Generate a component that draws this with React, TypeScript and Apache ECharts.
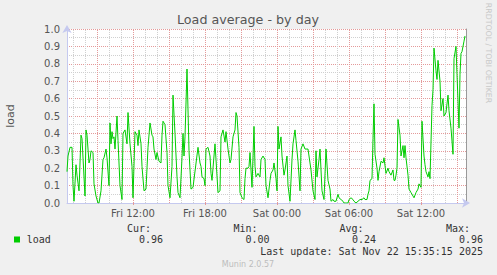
import React, { useEffect, useRef } from "react";
import * as echarts from "echarts";

// Time of each reading, minutes since Fri 00:00
const minutes = [
  390, 395, 405, 415, 420, 425, 435, 440, 450, 460, 465, 480, 485, 490, 500, 505, 510, 520, 525, 535,
  545, 550, 560, 570, 575, 585, 590, 600, 605, 610, 615, 620, 625, 630, 640, 645, 655, 665, 670, 680,
  690, 695, 705, 715, 720, 730, 740, 745, 750, 760, 765, 775, 785, 795, 805, 815, 820, 825, 835, 840,
  850, 860, 865, 870, 880, 890, 895, 905, 915, 920, 930, 940, 945, 955, 965, 970, 975, 980, 990, 1000,
  1010, 1020, 1045, 1055, 1060, 1065, 1075, 1080, 1085, 1095, 1105, 1110, 1115, 1130, 1135, 1145, 1155, 1160, 1170, 1180,
  1185, 1195, 1205, 1210, 1220, 1230, 1235, 1240, 1250, 1255, 1265, 1275, 1280, 1285, 1295, 1300, 1305, 1315, 1325, 1330,
  1335, 1345, 1355, 1360, 1370, 1380, 1385, 1395, 1405, 1410, 1420, 1425, 1435, 1440, 1445, 1450, 1460, 1465, 1475, 1480,
  1490, 1495, 1505, 1515, 1520, 1530, 1535, 1545, 1555, 1560, 1570, 1580, 1585, 1595, 1605, 1610, 1620, 1630, 1635, 1640,
  1650, 1655, 1665, 1675, 1685, 1695, 1705, 1710, 1720, 1725, 1735, 1745, 1750, 1760, 1770, 1775, 1795, 1800, 1810, 1820,
  1825, 1835, 1845, 1855, 1865, 1875, 1880, 1890, 1895, 1900, 1905, 1915, 1920, 1925, 1930, 1940, 1945, 1950, 1960, 1970,
  1975, 1985, 1995, 2000, 2010, 2020, 2025, 2030, 2035, 2040, 2045, 2055, 2060, 2070, 2075, 2080, 2085, 2095, 2100, 2110,
  2120, 2125, 2135, 2145, 2150, 2160, 2165, 2175, 2180, 2185, 2195, 2200, 2205, 2215, 2220, 2225, 2235, 2240, 2245, 2255,
  2260, 2270, 2275, 2285, 2295, 2300, 2310, 2320, 2325, 2335, 2340, 2350, 2355, 2360, 2365, 2375, 2380,
];

// Load average readings
const load = [
  0.18, 0.27, 0.32, 0.32, 0.10, 0.01, 0.22, 0.16, 0.07, 0.39, 0.37, 0.04, 0.42, 0.39, 0.23, 0.25, 0.30, 0.29, 0.11, 0.04,
  0.00, 0.00, 0.07, 0.25, 0.26, 0.31, 0.26, 0.10, 0.46, 0.34, 0.41, 0.37, 0.38, 0.31, 0.50, 0.36, 0.10, 0.02, 0.40, 0.42,
  0.34, 0.52, 0.34, 0.21, 0.03, 0.41, 0.39, 0.33, 0.42, 0.34, 0.21, 0.07, 0.08, 0.32, 0.46, 0.39, 0.38, 0.31, 0.25, 0.29,
  0.24, 0.23, 0.39, 0.47, 0.45, 0.29, 0.10, 0.03, 0.21, 0.62, 0.40, 0.15, 0.06, 0.03, 0.26, 0.40, 0.27, 0.38, 0.77, 0.30,
  0.08, 0.09, 0.32, 0.23, 0.21, 0.15, 0.14, 0.10, 0.31, 0.32, 0.27, 0.17, 0.13, 0.34, 0.25, 0.06, 0.07, 0.38, 0.42, 0.35,
  0.41, 0.31, 0.23, 0.25, 0.38, 0.42, 0.52, 0.50, 0.32, 0.06, 0.03, 0.02, 0.14, 0.20, 0.20, 0.21, 0.29, 0.09, 0.44, 0.21,
  0.15, 0.17, 0.15, 0.25, 0.27, 0.25, 0.10, 0.03, 0.13, 0.17, 0.19, 0.23, 0.14, 0.07, 0.44, 0.31, 0.38, 0.27, 0.16, 0.19,
  0.27, 0.10, 0.01, 0.25, 0.34, 0.42, 0.36, 0.24, 0.07, 0.31, 0.34, 0.31, 0.31, 0.31, 0.23, 0.19, 0.07, 0.02, 0.30, 0.15,
  0.25, 0.31, 0.07, 0.02, 0.31, 0.13, 0.08, 0.01, 0.02, 0.01, 0.01, 0.05, 0.03, 0.02, 0.01, 0.00, 0.00, 0.02, 0.03, 0.02,
  0.01, 0.00, 0.01, 0.02, 0.02, 0.03, 0.02, 0.02, 0.05, 0.07, 0.13, 0.14, 0.37, 0.57, 0.28, 0.20, 0.13, 0.18, 0.24, 0.23,
  0.26, 0.17, 0.20, 0.18, 0.16, 0.19, 0.13, 0.13, 0.16, 0.20, 0.48, 0.39, 0.27, 0.33, 0.26, 0.33, 0.26, 0.16, 0.08, 0.06,
  0.04, 0.03, 0.06, 0.08, 0.11, 0.09, 0.47, 0.27, 0.22, 0.18, 0.15, 0.18, 0.14, 0.56, 0.65, 0.89, 0.76, 0.71, 0.82, 0.70,
  0.53, 0.60, 0.50, 0.52, 0.62, 0.53, 0.43, 0.28, 0.83, 0.90, 0.74, 0.43, 0.74, 0.86, 0.87, 0.93, 0.96,
];

const axisStart = 390; // Fri 06:30
const axisEnd = 2385; // Sat 15:45
const xLabelValues = [720, 1080, 1440, 1800, 2160];
const xLabelNames = ["Fri 12:00", "Fri 18:00", "Sat 00:00", "Sat 06:00", "Sat 12:00"];
const statHeaders = ["Cur:", "Min:", "Avg:", "Max:"];
const statValues = ["0.96", "0.00", "0.24", "0.96"];

const GREEN = "#00cc00";
const MAJOR = "#e49a9a";
const MINOR = "#d0d0d0";
const AXIS = "#c5c9ef";
const SANS = "DejaVu Sans";
const MONO = "DejaVu Sans Mono";

export default function App() {
  const ref = useRef<HTMLDivElement>(null);

  useEffect(() => {
    if (!ref.current) return;
    const chart = echarts.init(ref.current, undefined, { renderer: "svg" });

    const seriesData = minutes.map((m, i) => [m, load[i]]);

    const vLines: any[] = [];
    for (let t = Math.ceil((axisStart + 1) / 60) * 60; t < axisEnd; t += 60) {
      const major = t % 180 === 0;
      vLines.push({
        xAxis: t,
        lineStyle: { color: major ? MAJOR : MINOR, type: [1, 1], width: 1 },
      });
    }

    const statHeaderRight = [151, 257.5, 363.5, 470];
    const statValueRight = [163, 269.5, 376, 483];

    const graphics: any[] = [
      {
        type: "text",
        x: 248,
        y: 19,
        style: {
          text: "Load average - by day",
          font: `12.7px "${SANS}"`,
          fill: "#555555",
          align: "center",
          verticalAlign: "middle",
        },
      },
      {
        type: "text",
        x: 10.5,
        y: 116,
        rotation: Math.PI / 2,
        style: {
          text: "load",
          font: `11px "${SANS}"`,
          fill: "#555555",
          align: "center",
          verticalAlign: "middle",
        },
      },
      {
        type: "text",
        x: 488,
        y: 53,
        rotation: -Math.PI / 2,
        style: {
          text: "RRDTOOL / TOBI OETIKER",
          font: `7.8px "${SANS}"`,
          fill: "#c8c8c8",
          align: "center",
          verticalAlign: "middle",
        },
      },
      {
        type: "rect",
        shape: { x: 14, y: 236.5, width: 6, height: 6 },
        style: { fill: GREEN },
      },
      {
        type: "text",
        x: 26.7,
        y: 239.5,
        style: {
          text: "load",
          font: `10px "${MONO}"`,
          fill: "#333333",
          align: "left",
          verticalAlign: "middle",
        },
      },
      {
        type: "text",
        x: 483,
        y: 251.5,
        style: {
          text: "Last update: Sat Nov 22 15:35:15 2025",
          font: `10px "${MONO}"`,
          fill: "#333333",
          align: "right",
          verticalAlign: "middle",
        },
      },
      {
        type: "text",
        x: 248,
        y: 264.5,
        style: {
          text: "Munin 2.0.57",
          font: `8px "${SANS}"`,
          fill: "#bdbdbd",
          align: "center",
          verticalAlign: "middle",
        },
      },
    ];
    statHeaders.forEach((h, i) => {
      graphics.push({
        type: "text",
        x: statHeaderRight[i],
        y: 228.5,
        style: {
          text: h,
          font: `10px "${MONO}"`,
          fill: "#333333",
          align: "right",
          verticalAlign: "middle",
        },
      });
      graphics.push({
        type: "text",
        x: statValueRight[i],
        y: 239.5,
        style: {
          text: statValues[i],
          font: `10px "${MONO}"`,
          fill: "#333333",
          align: "right",
          verticalAlign: "middle",
        },
      });
    });

    chart.setOption({
      animation: false,
      backgroundColor: "#f0f0f0",
      textStyle: { fontFamily: SANS },
      grid: {
        left: 67,
        right: 31,
        top: 29,
        bottom: 72,
        show: true,
        backgroundColor: "#ffffff",
        borderWidth: 0,
        containLabel: false,
      },
      xAxis: {
        type: "value",
        min: axisStart,
        max: axisEnd,
        axisLine: {
          show: true,
          lineStyle: { color: AXIS, width: 1 },
          symbol: ["none", "arrow"],
          symbolSize: [7, 8],
          symbolOffset: [0, 4],
        },
        axisTick: {
          show: true,
          customValues: xLabelValues,
          length: 2,
          lineStyle: { color: MAJOR },
        },
        axisLabel: {
          show: true,
          customValues: xLabelValues,
          formatter: (v: number) => {
            const i = xLabelValues.indexOf(v);
            return i >= 0 ? xLabelNames[i] : "";
          },
          color: "#555555",
          fontSize: 10,
          fontFamily: SANS,
          margin: 5,
        },
        splitLine: { show: false },
      },
      yAxis: [
        {
          type: "value",
          min: 0,
          max: 1,
          interval: 0.1,
          axisLine: {
            show: true,
            lineStyle: { color: AXIS, width: 1 },
            symbol: ["none", "arrow"],
            symbolSize: [7, 8],
            symbolOffset: [0, 4],
          },
          axisTick: { show: false },
          axisLabel: {
            formatter: (v: number) => v.toFixed(1),
            color: "#555555",
            fontSize: 10,
            fontFamily: SANS,
            margin: 7,
          },
          splitLine: { show: true, lineStyle: { color: MAJOR, type: [1, 1], width: 1 } },
          minorTick: { show: false, splitNumber: 2 },
          minorSplitLine: { show: true, lineStyle: { color: MINOR, type: [1, 1], width: 1 } },
        },
        {
          type: "value",
          position: "right",
          min: 0,
          max: 1,
          axisLine: { show: true, onZero: false, lineStyle: { color: "#9a9a9a", width: 1 } },
          axisTick: { show: false },
          axisLabel: { show: false },
          splitLine: { show: false },
        },
      ],
      series: [
        {
          type: "line",
          data: seriesData,
          z: 3,
          showSymbol: false,
          symbol: "none",
          lineStyle: { color: GREEN, width: 1 },
          itemStyle: { color: GREEN },
          markLine: {
            silent: true,
            symbol: "none",
            z: 1,
            label: { show: false },
            data: vLines,
          },
        },
      ],
      graphic: graphics,
    });

    return () => chart.dispose();
  }, []);

  return (
    <div
      ref={ref}
      style={{ position: "fixed", left: 0, top: 0, width: 497, height: 275, background: "#f0f0f0" }}
    />
  );
}
